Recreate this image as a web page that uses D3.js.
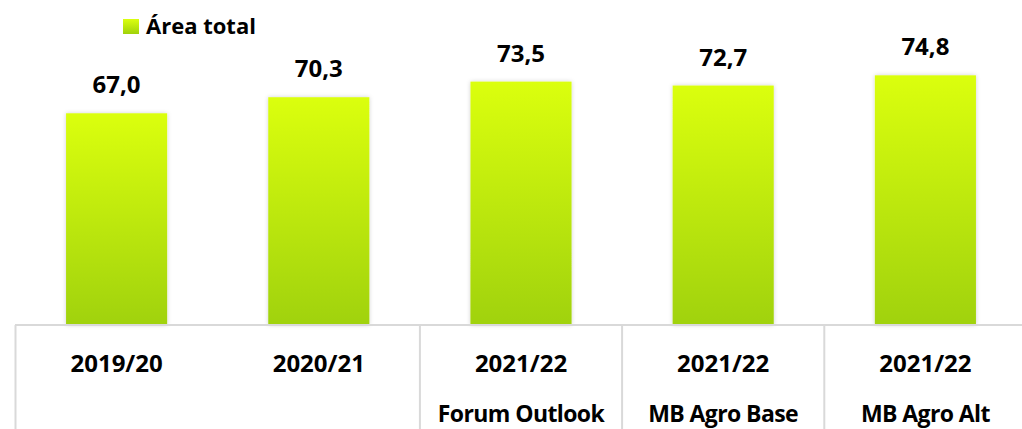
<!DOCTYPE html>
<html>
<head>
<meta charset="utf-8">
<script src="https://cdn.jsdelivr.net/npm/d3@7/dist/d3.min.js"></script>
<style>
  html, body { margin: 0; padding: 0; background: #fff; }
  svg { display: block; font-family: "Open Sans", Lato, sans-serif; }
</style>
</head>
<body>
<div id="chart"></div>
<script>
const years = ['2019/20', '2020/21', '2021/22', '2021/22', '2021/22'];
const sources = ['', '', 'Forum Outlook', 'MB Agro Base', 'MB Agro Alt'];
const area = [67.0, 70.3, 73.5, 72.7, 74.8];
const seriesName = 'Área total';

const W = 1022, H = 429;
const baseY = 325;

const svg = d3.select('#chart').append('svg').attr('width', W).attr('height', H);

const defs = svg.append('defs');
const grad = defs.append('linearGradient').attr('id', 'gradBar')
  .attr('x1', '0%').attr('y1', '0%').attr('x2', '0%').attr('y2', '100%');
grad.append('stop').attr('offset', '0%').attr('stop-color', '#dbff10');
grad.append('stop').attr('offset', '100%').attr('stop-color', '#a0d20a');

const shadow = defs.append('filter').attr('id', 'shadow')
  .attr('x', '-10%').attr('y', '-10%').attr('width', '120%').attr('height', '120%');
shadow.append('feDropShadow').attr('dx', 0).attr('dy', 0).attr('stdDeviation', 2)
  .attr('flood-color', '#000').attr('flood-opacity', 0.18);

const idx = area.map((d, i) => i);
const x = d3.scaleBand().domain(idx).range([15.5, 1026.5]).paddingInner(0.5).paddingOuter(0.25);
const y = d3.scaleLinear().domain([23.5, 80]).range([baseY, 50]);
const step = x.step();

// bars
svg.selectAll('.bar').data(idx).join('rect').attr('class', 'bar')
  .attr('x', i => x(i)).attr('y', i => y(area[i]))
  .attr('width', x.bandwidth()).attr('height', i => baseY - y(area[i]))
  .attr('fill', 'url(#gradBar)').attr('filter', 'url(#shadow)');

// value labels
svg.selectAll('.val').data(idx).join('text').attr('class', 'val')
  .attr('x', i => x(i) + x.bandwidth() / 2).attr('y', i => y(area[i]) - 20)
  .attr('text-anchor', 'middle').style('font-size', '24px').style('font-weight', 700).style('fill', '#000')
  .text(i => d3.format('.1f')(area[i]).replace('.', ','));

// category axis
svg.append('line').attr('x1', 15).attr('x2', W).attr('y1', baseY).attr('y2', baseY)
  .style('stroke', '#d9d9d9').style('stroke-width', 2);

const seps = [x.range()[0]].concat(idx.filter(i => sources[i] !== '').map(i => x(i) - step * 0.25));
svg.selectAll('.sep').data(seps).join('line').attr('class', 'sep')
  .attr('x1', d => d).attr('x2', d => d).attr('y1', baseY).attr('y2', H)
  .style('stroke', '#d9d9d9').style('stroke-width', 2);

svg.selectAll('.yr').data(idx).join('text').attr('class', 'yr')
  .attr('x', i => x(i) + x.bandwidth() / 2).attr('y', 372)
  .attr('text-anchor', 'middle').style('font-size', '24px').style('font-weight', 700).style('fill', '#000')
  .text(i => years[i]);

svg.selectAll('.src').data(idx.filter(i => sources[i] !== '')).join('text').attr('class', 'src')
  .attr('x', i => x(i) + x.bandwidth() / 2).attr('y', 422)
  .attr('text-anchor', 'middle').style('font-size', '23px').style('font-weight', 700)
  .style('letter-spacing', '-0.6px').style('fill', '#000')
  .text(i => sources[i]);

// legend
const lg = svg.append('g').attr('transform', 'translate(123,19)');
lg.append('rect').attr('width', 16).attr('height', 15).attr('fill', 'url(#gradBar)');
lg.append('text').attr('x', 23).attr('y', 15).style('font-size', '22px').style('font-weight', 700)
  .style('fill', '#000').text(seriesName);
</script>
</body>
</html>
